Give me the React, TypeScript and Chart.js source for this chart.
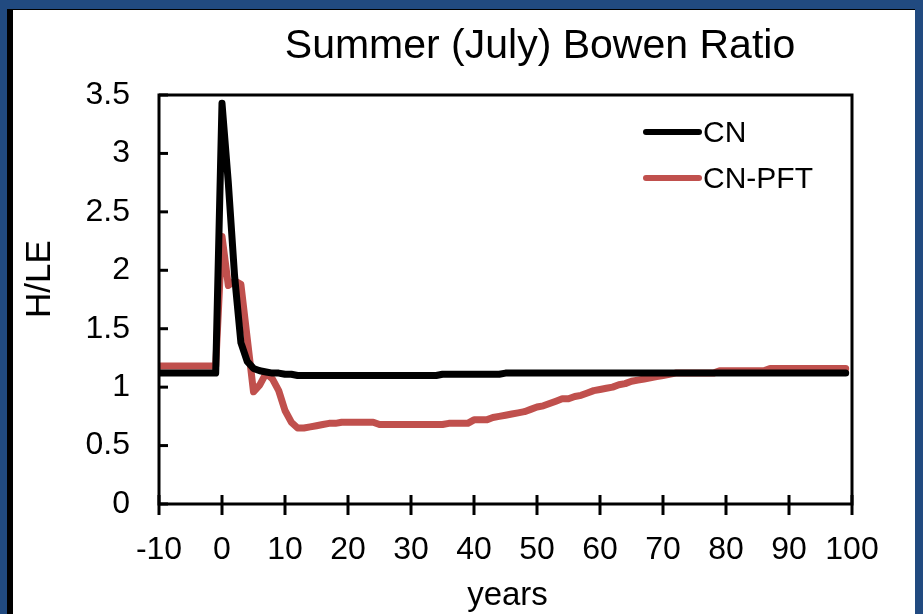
import React, { useEffect, useRef } from "react";
import { Chart, registerables } from "chart.js";

Chart.register(...registerables);

// Simulation years after the disturbance (year 0)
const years = [
  -10, -9, -8, -7, -6, -5, -4, -3, -2, -1,
  0, 1, 2, 3, 4, 5, 6, 7, 8, 9,
  10, 11, 12, 13, 14, 15, 16, 17, 18, 19,
  20, 21, 22, 23, 24, 25, 26, 27, 28, 29,
  30, 31, 32, 33, 34, 35, 36, 37, 38, 39,
  40, 41, 42, 43, 44, 45, 46, 47, 48, 49,
  50, 51, 52, 53, 54, 55, 56, 57, 58, 59,
  60, 61, 62, 63, 64, 65, 66, 67, 68, 69,
  70, 71, 72, 73, 74, 75, 76, 77, 78, 79,
  80, 81, 82, 83, 84, 85, 86, 87, 88, 89,
  90, 91, 92, 93, 94, 95, 96, 97, 98, 99,
];

// Bowen ratio H/LE, CN run
const cnValues = [
  1.12, 1.12, 1.12, 1.12, 1.12, 1.12, 1.12, 1.12, 1.12, 1.12,
  3.43, 2.75, 1.95, 1.38, 1.22, 1.16, 1.14, 1.13, 1.12, 1.12,
  1.11, 1.11, 1.10, 1.10, 1.10, 1.10, 1.10, 1.10, 1.10, 1.10,
  1.10, 1.10, 1.10, 1.10, 1.10, 1.10, 1.10, 1.10, 1.10, 1.10,
  1.10, 1.10, 1.10, 1.10, 1.10, 1.11, 1.11, 1.11, 1.11, 1.11,
  1.11, 1.11, 1.11, 1.11, 1.11, 1.12, 1.12, 1.12, 1.12, 1.12,
  1.12, 1.12, 1.12, 1.12, 1.12, 1.12, 1.12, 1.12, 1.12, 1.12,
  1.12, 1.12, 1.12, 1.12, 1.12, 1.12, 1.12, 1.12, 1.12, 1.12,
  1.12, 1.12, 1.12, 1.12, 1.12, 1.12, 1.12, 1.12, 1.12, 1.12,
  1.12, 1.12, 1.12, 1.12, 1.12, 1.12, 1.12, 1.12, 1.12, 1.12,
  1.12, 1.12, 1.12, 1.12, 1.12, 1.12, 1.12, 1.12, 1.12, 1.12,
];

// Bowen ratio H/LE, CN-PFT run
const cnPftValues = [
  1.18, 1.18, 1.18, 1.18, 1.18, 1.18, 1.18, 1.18, 1.18, 1.18,
  2.29, 1.87, 1.91, 1.88, 1.42, 0.96, 1.02, 1.12, 1.07, 0.97,
  0.80, 0.70, 0.65, 0.65, 0.66, 0.67, 0.68, 0.69, 0.69, 0.70,
  0.70, 0.70, 0.70, 0.70, 0.70, 0.68, 0.68, 0.68, 0.68, 0.68,
  0.68, 0.68, 0.68, 0.68, 0.68, 0.68, 0.69, 0.69, 0.69, 0.69,
  0.72, 0.72, 0.72, 0.74, 0.75, 0.76, 0.77, 0.78, 0.79, 0.81,
  0.83, 0.84, 0.86, 0.88, 0.90, 0.90, 0.92, 0.93, 0.95, 0.97,
  0.98, 0.99, 1.00, 1.02, 1.03, 1.05, 1.06, 1.07, 1.08, 1.09,
  1.10, 1.11, 1.12, 1.12, 1.12, 1.12, 1.12, 1.12, 1.12, 1.14,
  1.14, 1.14, 1.14, 1.14, 1.14, 1.14, 1.14, 1.16, 1.16, 1.16,
  1.16, 1.16, 1.16, 1.16, 1.16, 1.16, 1.16, 1.16, 1.16, 1.16,
];

const yTickLabels = ["0", "0.5", "1", "1.5", "2", "2.5", "3", "3.5"];
const xTickLabels = ["-10", "0", "10", "20", "30", "40", "50", "60", "70", "80", "90", "100"];

const seriesNames = ["CN", "CN-PFT"];
const seriesColors = ["#000000", "#C0504D"];

const FONT = '"Liberation Sans", Arial, sans-serif';

const decorPlugin = {
  id: "decor",
  afterDraw(chart: any) {
    const { ctx, chartArea, scales } = chart;
    const { left, right, top, bottom } = chartArea;
    ctx.save();

    // frame
    ctx.strokeStyle = "#000";
    ctx.lineWidth = 3;
    ctx.lineCap = "butt";
    ctx.beginPath();
    ctx.moveTo(left, top);
    ctx.lineTo(right, top);
    ctx.lineTo(right, bottom);
    ctx.lineTo(left, bottom);
    ctx.closePath();
    ctx.stroke();

    // y tick marks pointing into the plot
    scales.y.ticks.forEach((t: any) => {
      const y = scales.y.getPixelForValue(t.value);
      ctx.beginPath();
      ctx.moveTo(left, y);
      ctx.lineTo(left + 9, y);
      ctx.stroke();
    });
    // x tick marks crossing the axis
    scales.x.ticks.forEach((t: any) => {
      const x = scales.x.getPixelForValue(t.value);
      ctx.beginPath();
      ctx.moveTo(x, bottom - 9);
      ctx.lineTo(x, bottom + 11);
      ctx.stroke();
    });

    ctx.fillStyle = "#000";
    // title
    ctx.font = `41px ${FONT}`;
    ctx.textAlign = "center";
    ctx.textBaseline = "middle";
    ctx.fillText("Summer (July) Bowen Ratio", left + 381, top - 48);

    // axis titles
    ctx.font = `33px ${FONT}`;
    ctx.fillText("years", (left + right) / 2 + 2, bottom + 92);
    ctx.save();
    ctx.font = `35px ${FONT}`;
    ctx.translate(left - 119, top + 184);
    ctx.rotate(-Math.PI / 2);
    ctx.fillText("H/LE", 0, 0);
    ctx.restore();

    // legend
    ctx.font = `30px ${FONT}`;
    ctx.textAlign = "left";
    seriesNames.forEach((name, i) => {
      const y = top + 37 + i * 46;
      ctx.strokeStyle = seriesColors[i];
      ctx.lineWidth = 6;
      ctx.lineCap = "round";
      ctx.beginPath();
      ctx.moveTo(left + 487, y);
      ctx.lineTo(left + 540, y);
      ctx.stroke();
      ctx.fillText(name, left + 544, y + 2);
    });

    ctx.restore();
  },
};

export default function App() {
  const canvasRef = useRef<HTMLCanvasElement | null>(null);

  useEffect(() => {
    if (!canvasRef.current) return;
    const chart = new Chart(canvasRef.current, {
      type: "line",
      data: {
        labels: years,
        datasets: [
          {
            label: seriesNames[0],
            data: years.map((x, i) => ({ x, y: cnValues[i] })),
            borderColor: seriesColors[0],
            borderWidth: 7,
            borderCapStyle: "round",
            borderJoinStyle: "round",
            pointRadius: 0,
            tension: 0,
          },
          {
            label: seriesNames[1],
            data: years.map((x, i) => ({ x, y: cnPftValues[i] })),
            borderColor: seriesColors[1],
            borderWidth: 7,
            borderCapStyle: "round",
            borderJoinStyle: "round",
            pointRadius: 0,
            tension: 0,
          },
        ],
      },
      options: {
        animation: false,
        responsive: false,
        maintainAspectRatio: false,
        layout: { padding: { left: 13, top: 95, right: 71, bottom: 0 } },
        plugins: {
          legend: { display: false },
          title: { display: false },
          tooltip: { enabled: false },
        },
        scales: {
          x: {
            type: "linear",
            min: -10,
            max: 100,
            grid: { display: false },
            border: { display: false },
            ticks: {
              stepSize: 10,
              color: "#000",
              font: { family: FONT, size: 32 },
              padding: 19,
              maxRotation: 0,
              callback: (_v: any, i: number) => xTickLabels[i],
            },
            afterFit: (s: any) => {
              s.height = 110;
            },
          },
          y: {
            min: 0,
            max: 3.5,
            grid: { display: false },
            border: { display: false },
            ticks: {
              stepSize: 0.5,
              color: "#000",
              font: { family: FONT, size: 32 },
              padding: 21,
              callback: (_v: any, i: number) => yTickLabels[i],
            },
            afterFit: (s: any) => {
              s.width = 146;
            },
          },
        },
      },
      plugins: [decorPlugin],
    });
    return () => chart.destroy();
  }, []);

  return (
    <div
      style={{
        position: "absolute",
        left: 0,
        top: 0,
        width: 923,
        height: 614,
        background: "#214A80",
        overflow: "hidden",
      }}
    >
      <div
        style={{
          position: "absolute",
          left: 7,
          top: 9,
          right: 8,
          bottom: 0,
          background: "#fff",
          borderLeft: "6px solid #000",
          borderTop: "1px solid #000",
        }}
      />
      <canvas
        ref={canvasRef}
        width={923}
        height={614}
        style={{ position: "absolute", left: 0, top: 0, width: 923, height: 614 }}
      />
    </div>
  );
}
